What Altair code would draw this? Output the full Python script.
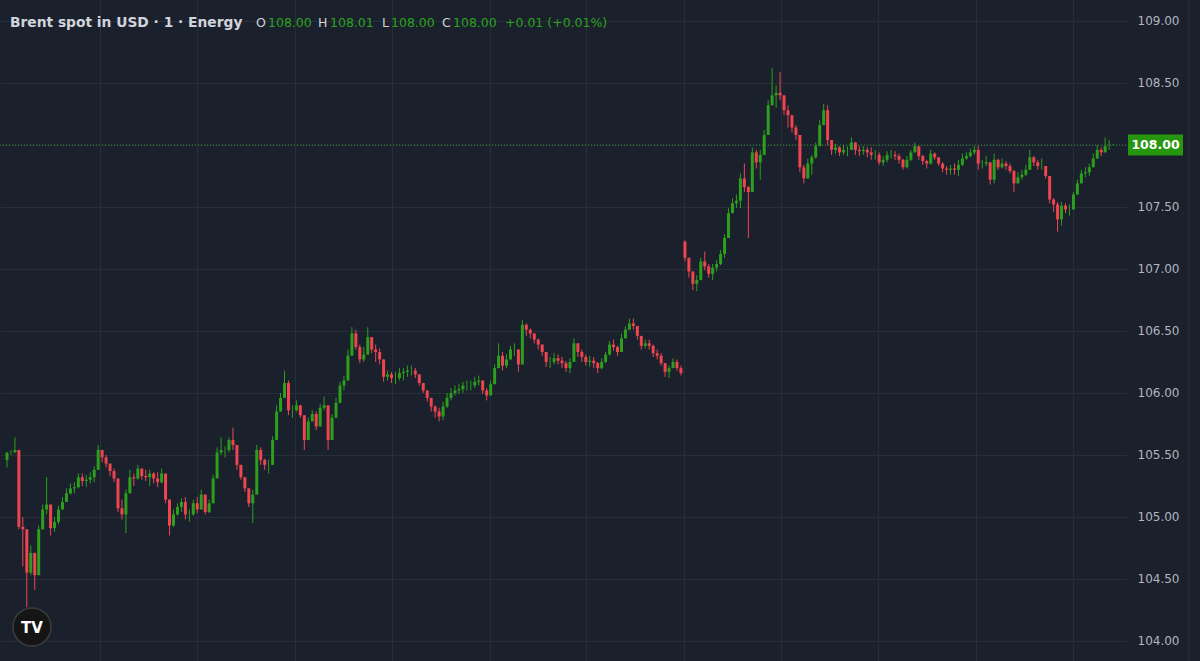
import altair as alt
import pandas as pd

# ---- data (aggregated candles, left to right) ----
close = [
    105.52, 105.52, 105.54, 104.92, 104.90, 104.55, 104.71, 104.53, 104.90, 105.06,
    105.10, 104.91, 104.96, 105.06, 105.12, 105.19, 105.23, 105.24, 105.32, 105.29,
    105.30, 105.32, 105.38, 105.54, 105.48, 105.43, 105.37, 105.31, 105.07, 105.02,
    105.19, 105.32, 105.31, 105.39, 105.33, 105.32, 105.35, 105.31, 105.28, 105.35,
    105.14, 104.93, 105.02, 105.08, 105.12, 105.02, 105.02, 105.11, 105.06, 105.18,
    105.04, 105.11, 105.31, 105.52, 105.54, 105.54, 105.62, 105.58, 105.42, 105.32,
    105.23, 105.11, 105.18, 105.54, 105.46, 105.42, 105.42, 105.62, 105.85, 105.96,
    106.08, 105.86, 105.86, 105.90, 105.82, 105.62, 105.77, 105.83, 105.73, 105.88,
    105.90, 105.62, 105.80, 105.92, 106.06, 106.10, 106.30, 106.48, 106.37, 106.27,
    106.31, 106.45, 106.35, 106.33, 106.27, 106.13, 106.15, 106.12, 106.12, 106.16,
    106.17, 106.18, 106.18, 106.15, 106.08, 106.02, 105.96, 105.89, 105.85, 105.81,
    105.89, 105.96, 106.00, 106.02, 106.03, 106.06, 106.06, 106.06, 106.09, 106.10,
    106.02, 105.98, 106.07, 106.20, 106.30, 106.22, 106.27, 106.35, 106.35, 106.23,
    106.55, 106.51, 106.48, 106.43, 106.39, 106.33, 106.25, 106.25, 106.28, 106.26,
    106.24, 106.20, 106.25, 106.40, 106.33, 106.29, 106.25, 106.26, 106.24, 106.20,
    106.25, 106.31, 106.39, 106.37, 106.33, 106.44, 106.51, 106.56, 106.54, 106.46,
    106.38, 106.40, 106.38, 106.32, 106.30, 106.24, 106.17, 106.20, 106.25, 106.20,
    106.16, 107.09, 106.98, 106.88, 106.91, 107.06, 107.02, 106.96, 107.01, 107.04,
    107.12, 107.25, 107.45, 107.53, 107.55, 107.73, 107.66, 107.62, 107.94, 107.86,
    107.92, 108.08, 108.32, 108.40, 108.42, 108.40, 108.28, 108.24, 108.14, 108.08,
    107.82, 107.73, 107.85, 107.90, 107.99, 108.16, 108.28, 108.04, 107.96, 107.98,
    107.94, 107.96, 107.96, 108.02, 107.96, 107.95, 107.96, 107.94, 107.92, 107.92,
    107.86, 107.88, 107.92, 107.92, 107.91, 107.88, 107.82, 107.88, 107.94, 107.99,
    107.91, 107.87, 107.85, 107.93, 107.90, 107.85, 107.81, 107.80, 107.81, 107.80,
    107.84, 107.89, 107.91, 107.94, 107.96, 107.85, 107.85, 107.86, 107.72, 107.88,
    107.82, 107.85, 107.83, 107.79, 107.69, 107.74, 107.76, 107.80, 107.90, 107.86,
    107.83, 107.83, 107.75, 107.56, 107.52, 107.40, 107.51, 107.48, 107.48, 107.60,
    107.69, 107.77, 107.78, 107.82, 107.89, 107.96, 107.94, 107.99, 107.99, 108.00,
]
high = [
    105.52, 105.54, 105.64, 105.52, 105.00, 104.90, 104.77, 104.71, 104.93, 105.10,
    105.32, 105.10, 105.00, 105.09, 105.16, 105.23, 105.27, 105.28, 105.35, 105.35,
    105.34, 105.36, 105.41, 105.58, 105.54, 105.50, 105.43, 105.39, 105.31, 105.14,
    105.22, 105.38, 105.35, 105.42, 105.39, 105.38, 105.38, 105.36, 105.36, 105.39,
    105.35, 105.14, 105.06, 105.11, 105.15, 105.16, 105.06, 105.14, 105.16, 105.22,
    105.18, 105.14, 105.34, 105.56, 105.64, 105.57, 105.64, 105.72, 105.58, 105.42,
    105.32, 105.23, 105.22, 105.58, 105.56, 105.47, 105.46, 105.65, 105.90, 106.00,
    106.18, 106.10, 105.90, 105.94, 105.90, 105.82, 105.80, 105.86, 105.85, 105.91,
    105.97, 105.90, 105.83, 105.96, 106.09, 106.14, 106.35, 106.53, 106.51, 106.39,
    106.37, 106.53, 106.45, 106.39, 106.36, 106.27, 106.18, 106.17, 106.17, 106.20,
    106.20, 106.22, 106.22, 106.20, 106.15, 106.08, 106.02, 105.96, 105.90, 105.88,
    105.93, 106.00, 106.04, 106.06, 106.07, 106.09, 106.10, 106.10, 106.13, 106.14,
    106.10, 106.04, 106.10, 106.23, 106.40, 106.33, 106.31, 106.38, 106.40, 106.35,
    106.59, 106.56, 106.52, 106.48, 106.44, 106.39, 106.33, 106.29, 106.32, 106.31,
    106.29, 106.26, 106.28, 106.44, 106.40, 106.35, 106.31, 106.30, 106.29, 106.25,
    106.28, 106.33, 106.42, 106.43, 106.38, 106.48, 106.54, 106.60, 106.60, 106.54,
    106.46, 106.43, 106.43, 106.39, 106.35, 106.32, 106.24, 106.22, 106.28, 106.27,
    106.22, 107.23, 107.09, 106.98, 106.95, 107.09, 107.14, 107.04, 107.04, 107.07,
    107.15, 107.28, 107.49, 107.57, 107.60, 107.77, 107.85, 107.67, 107.98, 107.96,
    107.96, 108.12, 108.36, 108.62, 108.48, 108.59, 108.36, 108.32, 108.24, 108.16,
    108.08, 107.84, 107.89, 107.92, 108.02, 108.20, 108.33, 108.32, 108.04, 108.01,
    107.99, 108.00, 107.99, 108.06, 108.02, 107.99, 107.99, 107.98, 107.98, 107.96,
    107.94, 107.91, 107.95, 107.96, 107.95, 107.93, 107.89, 107.91, 107.96, 108.02,
    107.99, 107.92, 107.88, 107.96, 107.94, 107.90, 107.86, 107.83, 107.84, 107.85,
    107.88, 107.93, 107.94, 107.97, 107.99, 107.99, 107.88, 107.91, 107.86, 107.93,
    107.89, 107.89, 107.87, 107.85, 107.80, 107.78, 107.80, 107.84, 107.96, 107.91,
    107.88, 107.89, 107.83, 107.75, 107.57, 107.54, 107.54, 107.53, 107.52, 107.62,
    107.72, 107.80, 107.82, 107.85, 107.93, 108.00, 107.98, 108.06, 108.04, 108.01,
]
low = [
    105.40, 105.50, 105.52, 104.90, 104.60, 104.27, 104.53, 104.41, 104.53, 104.90,
    105.02, 104.85, 104.88, 104.94, 105.06, 105.12, 105.18, 105.19, 105.23, 105.25,
    105.24, 105.27, 105.28, 105.38, 105.44, 105.40, 105.33, 105.28, 105.04, 104.98,
    104.87, 105.19, 105.25, 105.30, 105.30, 105.29, 105.25, 105.27, 105.24, 105.27,
    105.11, 104.85, 104.92, 105.01, 105.04, 104.98, 104.96, 105.01, 105.03, 105.06,
    105.02, 105.03, 105.11, 105.31, 105.50, 105.48, 105.52, 105.54, 105.38, 105.30,
    105.20, 105.08, 104.95, 105.18, 105.42, 105.38, 105.35, 105.42, 105.62, 105.85,
    105.96, 105.82, 105.80, 105.85, 105.80, 105.54, 105.62, 105.77, 105.70, 105.73,
    105.86, 105.54, 105.62, 105.80, 105.92, 106.02, 106.10, 106.30, 106.35, 106.24,
    106.25, 106.31, 106.32, 106.25, 106.23, 106.09, 106.10, 106.08, 106.07, 106.10,
    106.10, 106.13, 106.14, 106.12, 106.06, 106.00, 105.93, 105.85, 105.80, 105.77,
    105.78, 105.88, 105.94, 105.98, 105.99, 106.00, 106.02, 106.02, 106.04, 106.06,
    105.99, 105.94, 105.98, 106.07, 106.20, 106.18, 106.20, 106.27, 106.30, 106.17,
    106.23, 106.46, 106.44, 106.40, 106.35, 106.30, 106.21, 106.20, 106.23, 106.23,
    106.20, 106.17, 106.16, 106.25, 106.29, 106.25, 106.22, 106.21, 106.20, 106.16,
    106.19, 106.24, 106.30, 106.34, 106.30, 106.33, 106.44, 106.51, 106.51, 106.43,
    106.35, 106.36, 106.35, 106.29, 106.27, 106.22, 106.13, 106.12, 106.20, 106.18,
    106.14, 107.06, 106.93, 106.83, 106.82, 106.91, 106.99, 106.93, 106.91, 106.98,
    107.03, 107.09, 107.25, 107.45, 107.49, 107.49, 107.62, 107.25, 107.62, 107.81,
    107.72, 107.92, 108.08, 108.32, 108.30, 108.36, 108.24, 108.14, 108.10, 108.04,
    107.78, 107.69, 107.73, 107.76, 107.89, 107.99, 108.16, 108.00, 107.92, 107.93,
    107.91, 107.92, 107.91, 107.96, 107.92, 107.91, 107.92, 107.90, 107.88, 107.88,
    107.84, 107.83, 107.86, 107.89, 107.88, 107.85, 107.80, 107.81, 107.87, 107.94,
    107.88, 107.84, 107.81, 107.84, 107.88, 107.83, 107.78, 107.76, 107.76, 107.76,
    107.75, 107.83, 107.88, 107.90, 107.92, 107.80, 107.81, 107.83, 107.68, 107.69,
    107.80, 107.81, 107.80, 107.77, 107.62, 107.69, 107.72, 107.75, 107.80, 107.83,
    107.80, 107.80, 107.73, 107.53, 107.46, 107.30, 107.35, 107.45, 107.43, 107.48,
    107.60, 107.69, 107.74, 107.75, 107.82, 107.89, 107.91, 107.94, 107.96, 108.00,
]
first_open = 105.46
open_overrides = {171: 107.22, 279: 108.00}   # session gap open, last bar open

price_ticks = [104.0, 104.5, 105.0, 105.5, 106.0, 106.5, 107.0, 107.5, 108.0, 108.5, 109.0]
time_grid = [23.4, 48.0, 72.6, 97.2, 121.75, 146.1, 170.75, 195.2, 219.75, 244.4, 268.9]
title_text = "Brent spot in USD \u00b7 1 \u00b7 Energy"

# ---- build table ----
opens = []
for i, c in enumerate(close):
    if i in open_overrides:
        o = open_overrides[i]
    elif i == 0:
        o = first_open
    else:
        o = close[i - 1]
    opens.append(o)

hi = [max(h, o, c) for h, o, c in zip(high, opens, close)]
lo = [min(l, o, c) for l, o, c in zip(low, opens, close)]
df = pd.DataFrame({
    "idx": list(range(len(close))),
    "open": opens, "high": hi, "low": lo, "close": close,
    "dir": ["up" if c >= o else "down" for o, c in zip(opens, close)],
})

last_o, last_h, last_l, last_c = opens[-1], hi[-1], lo[-1], close[-1]
chg = last_c - close[-2]
chg_pct = chg / close[-2] * 100

# ---- styles ----
BG = "#1b202d"
GRID = "#282d3a"
UP = "#2c9f1c"
DOWN = "#ee4551"
HDR_GREEN = "#2aa21c"
TXT = "#d1d4dc"
AXIS_TXT = "#b2b5be"
FONT = "DejaVu Sans"
PLOT_W, PLOT_H = 1127, 661

xscale = alt.Scale(domain=[-0.5, 281.25], nice=False, zero=False)
yscale = alt.Scale(domain=[103.838, 109.169], nice=False, zero=False)
xaxis = alt.Axis(values=time_grid, labels=False, ticks=False, domain=False,
                 grid=True, gridColor=GRID, gridWidth=1, title=None)
# the 108.00 label is covered by the last-price box, as in the reference
yaxis = alt.Axis(orient="right", values=price_ticks, format=".2f", labelFontSize=12,
                 labelColor=AXIS_TXT, labelFont=FONT, labelPadding=10, ticks=False,
                 labelExpr=f"abs(datum.value - {last_c}) < 0.001 ? '' : datum.label",
                 domain=False, grid=True, gridColor=GRID, gridWidth=1, title=None)
color = alt.Color("dir:N", scale=alt.Scale(domain=["up", "down"], range=[UP, DOWN]), legend=None)

base = alt.Chart(df)
wicks = base.mark_rule(strokeWidth=1).encode(
    x=alt.X("idx:Q", scale=xscale, axis=xaxis, title=None),
    y=alt.Y("low:Q", scale=yscale, axis=yaxis, title=None),
    y2="high:Q",
    color=color,
)
bodies = base.mark_bar(size=3.0).encode(
    x=alt.X("idx:Q", title=None),
    y=alt.Y("open:Q", title=None),
    y2="close:Q",
    color=color,
)

last_df = pd.DataFrame({"p": [last_c], "label": [f"{last_c:.2f}"]})
dotted = alt.Chart(last_df).mark_rule(strokeDash=[1, 2], color=UP, strokeWidth=1, opacity=0.9).encode(
    x=alt.value(0), x2=alt.value(PLOT_W), y=alt.Y("p:Q", title=None))
box = alt.Chart(last_df).mark_rule(strokeWidth=21, color="#27960f", strokeCap="butt").encode(
    x=alt.value(1128), x2=alt.value(1183), y=alt.Y("p:Q", title=None))
box_text = alt.Chart(last_df).mark_text(align="center", baseline="middle", color="#ffffff",
                                        fontWeight="bold", fontSize=12.5, font=FONT).encode(
    x=alt.value(1155.5), y=alt.Y("p:Q", title=None), text="label:N")

border = alt.Chart(last_df).mark_rule(color="#2a2e39", strokeWidth=1).encode(
    x=alt.value(1189), y=alt.value(0), y2=alt.value(PLOT_H))

def header_piece(text, px, col, size=12.5, weight="normal"):
    return alt.Chart(pd.DataFrame({"t": [text]})).mark_text(
        align="left", baseline="middle", color=col, fontSize=size, fontWeight=weight, font=FONT
    ).encode(x=alt.value(px), y=alt.value(23), text="t:N")

header = [
    header_piece(title_text, 10, TXT, size=13.8, weight="bold"),
    header_piece("O", 256, TXT), header_piece(f"{last_o:.2f}", 268, HDR_GREEN),
    header_piece("H", 318, TXT), header_piece(f"{last_h:.2f}", 330, HDR_GREEN),
    header_piece("L", 382, TXT), header_piece(f"{last_l:.2f}", 391, HDR_GREEN),
    header_piece("C", 442, TXT), header_piece(f"{last_c:.2f}", 453, HDR_GREEN),
    header_piece(f"{chg:+.2f} ({chg_pct:+.2f}%)", 505, HDR_GREEN),
]

logo_df = pd.DataFrame({"t": ["TV"]})
logo_circle = alt.Chart(logo_df).mark_point(filled=True, shape="circle", size=1444, opacity=1,
                                            fill="#151515", stroke="#3d3d3d", strokeWidth=1.5).encode(
    x=alt.value(32), y=alt.value(627))
logo_text = alt.Chart(logo_df).mark_text(align="center", baseline="middle", color="#ffffff",
                                         fontWeight="bold", fontSize=15, font=FONT).encode(
    x=alt.value(32), y=alt.value(628), text="t:N")

chart = alt.layer(
    dotted, wicks, bodies, box, box_text, border, *header, logo_circle, logo_text
).properties(
    width=PLOT_W, height=PLOT_H,
    padding={"left": 0, "top": 0, "right": 1200 - PLOT_W, "bottom": 0},
    autosize=alt.AutoSizeParams(type="none"),
    background=BG,
).configure_view(stroke=None)

chart.save("out.html", embed_options={"renderer": "svg", "actions": False})
